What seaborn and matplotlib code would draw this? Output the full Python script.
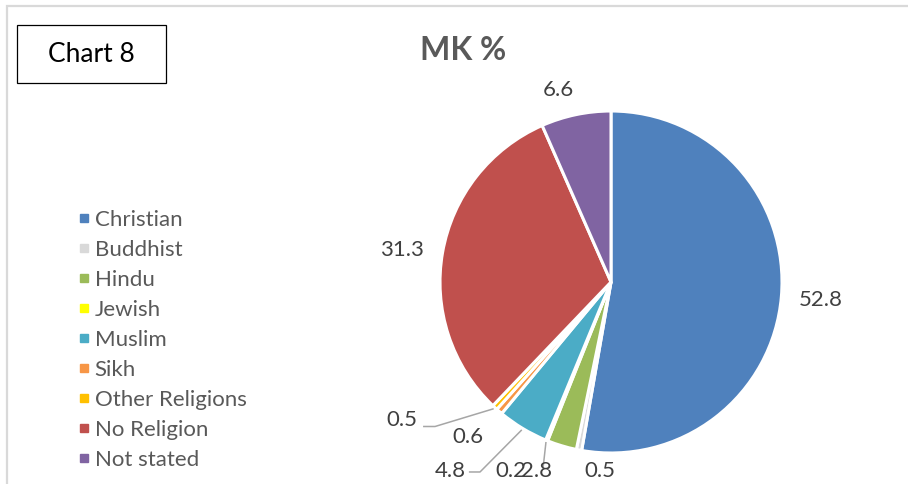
import matplotlib
matplotlib.use("Agg")
import matplotlib.pyplot as plt
from matplotlib.patches import Rectangle
from matplotlib.lines import Line2D
import seaborn as sns
import numpy as np

# ---- data ----
categories = ["Christian", "Buddhist", "Hindu", "Jewish", "Muslim", "Sikh",
              "Other Religions", "No Religion", "Not stated"]
values = [52.8, 0.5, 2.8, 0.2, 4.8, 0.6, 0.5, 31.3, 6.6]
value_labels = ["52.8", "0.5", "2.8", "0.2", "4.8", "0.6", "0.5", "31.3", "6.6"]
title_text = "MK %"
box_text = "Chart 8"

# ---- styling / layout ----
colors = sns.color_palette(["#4F81BD", "#D9D9D9", "#9BBB59", "#FFFF00", "#4BACC6",
                            "#F79646", "#FFC000", "#C0504D", "#8064A2"])
# label centres (in pie-radius units, relative to pie centre)
label_pos = [(1.228, -0.105), (-0.064, -1.105), (-0.433, -1.105), (-0.585, -1.105),
             (-0.942, -1.105), (-0.836, -0.906), (-1.222, -0.807), (-1.222, 0.190),
             (-0.310, 1.123)]
# leader lines: start point and optional elbow (end point = wedge edge)
leaders = {3: [(-0.398, -1.094)],
           4: [(-0.831, -1.111), (-0.766, -1.111)],
           6: [(-1.099, -0.845), (-1.029, -0.845)]}

sns.set_theme(style="white")
plt.rcParams["font.family"] = ["Lato", "DejaVu Sans"]

W, H, DPI = 908, 484, 100
fig = plt.figure(figsize=(W / DPI, H / DPI), dpi=DPI)
fig.patch.set_facecolor("white")

cx, cy, R = 611, 282, 171  # pie centre / radius in pixels
ax = fig.add_axes([0, 0, 1, 1])
ax.axis("off")

wedges, _ = ax.pie(values, colors=colors, startangle=90, counterclock=False,
                   radius=1.0, center=(0, 0), normalize=True,
                   wedgeprops=dict(edgecolor="white", linewidth=2.2))
ax.set_xlim((0 - cx) / R, (W - cx) / R)
ax.set_ylim(-(H - cy) / R, cy / R)
ax.set_aspect("auto")

label_color = "#404040"
for i, (w, lab) in enumerate(zip(wedges, value_labels)):
    x, y = label_pos[i]
    ax.text(x, y, lab, ha="center", va="center", fontsize=16, color=label_color)
    if i in leaders:
        mid = np.deg2rad((w.theta1 + w.theta2) / 2)
        pts = leaders[i] + [(1.01 * np.cos(mid), 1.01 * np.sin(mid))]
        xs, ys = zip(*pts)
        ax.plot(xs, ys, color="#A6A6A6", lw=1.1, solid_capstyle="butt")

# title
fig.text(463 / W, 1 - 51 / H, title_text, ha="center", va="center",
         fontsize=23, fontweight="bold", color="#595959")

# outer chart border (light grey)
fig.patches.append(Rectangle((6.5 / W, -0.1), 1.2, 1 - 5.5 / H + 0.1,
                             transform=fig.transFigure, fill=False,
                             edgecolor="#D9D9D9", lw=1.6))

# "Chart 8" box
fig.patches.append(Rectangle((17 / W, 1 - 83 / H), (166 - 17) / W, (83 - 25) / H,
                             transform=fig.transFigure, fill=True, facecolor="white",
                             edgecolor="black", lw=0.9))
fig.text(91.5 / W, 1 - 55 / H, box_text, ha="center", va="center",
         fontsize=19, color="black")

# legend
handles = [Line2D([], [], marker="s", linestyle="none", markersize=6,
                  markerfacecolor=c, markeredgecolor=c) for c in colors]
leg = fig.legend(handles, categories, loc="upper left",
                 bbox_to_anchor=(77 / W, 1 - 210 / H), frameon=False,
                 fontsize=16, handlelength=0.6, handletextpad=0.2,
                 labelspacing=0.45, borderpad=0, borderaxespad=0)
for t in leg.get_texts():
    t.set_color("#595959")

fig.savefig("out.png", dpi=DPI, facecolor="white")
